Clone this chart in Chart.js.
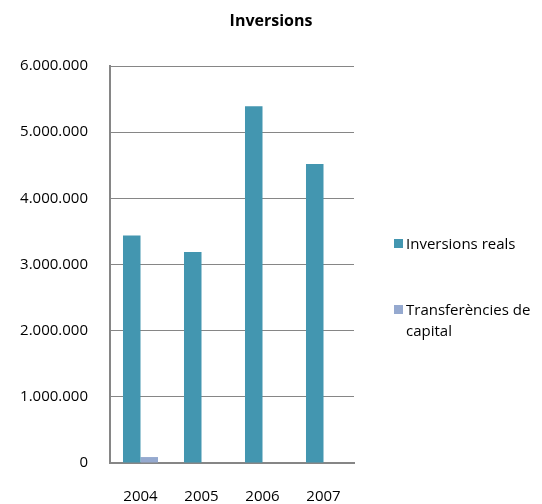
<!DOCTYPE html>
<html>
<head>
<meta charset="utf-8">
<script src="https://cdn.jsdelivr.net/npm/chart.js@4.4.0/dist/chart.umd.min.js"></script>
<style>
  html, body { margin: 0; padding: 0; background: #fff; }
  #wrap { position: relative; width: 542px; height: 504px; }
  #title { position: absolute; left: 0; top: 9px; width: 542px; text-align: center; font-family: "Open Sans", sans-serif; font-weight: bold; font-size: 16px; color: #000; }
  #legend { position: absolute; left: 394px; top: 233px; font-family: "Open Sans", sans-serif; font-size: 15px; color: #000; }
  .item { position: relative; padding-left: 12px; line-height: 21px; }
  .item span.box { position: absolute; left: 0; top: 6px; width: 9px; height: 9px; }
</style>
</head>
<body>
<div id="wrap">
  <canvas id="Chart" width="542" height="504"></canvas>
  <div id="title">Inversions</div>
  <div id="legend"></div>
</div>
<script>
const years = ['2004', '2005', '2006', '2007'];
const inversionsReals = [3440000, 3190000, 5390000, 4520000];
const transferencies = [90000, 0, 0, 0];
const seriesNames = ['Inversions reals', 'Transferències de capital'];
const colors = ['#4396B0', '#95A9CF'];

function fmt(v) {
    return String(v).replace(/\B(?=(\d{3})+(?!\d))/g, '.');
}

const dataSet = {
    labels: years,
    datasets: [
        { label: seriesNames[0], data: inversionsReals, backgroundColor: colors[0] },
        { label: seriesNames[1], data: transferencies, backgroundColor: colors[1] }
    ]
};

const options = {
    responsive: false,
    animation: false,
    layout: { padding: { left: 0, right: 188, top: 66, bottom: 0 } },
    datasets: { bar: { categoryPercentage: 0.574, barPercentage: 1 } },
    plugins: {
        legend: { display: false },
        tooltip: { enabled: false },
        title: { display: false }
    },
    scales: {
        x: {
            grid: { display: false },
            border: { display: true, color: '#868686', width: 2 },
            ticks: { color: '#000', font: { family: 'Open Sans', size: 15 }, padding: 17 },
            afterFit: function (s) { s.height = 41; }
        },
        y: {
            min: 0,
            max: 6000000,
            grid: { color: '#868686', lineWidth: 1, drawTicks: false },
            border: { display: true, color: '#868686', width: 2 },
            ticks: {
                stepSize: 1000000,
                color: '#000',
                font: { family: 'Open Sans', size: 15 },
                padding: 22,
                callback: function (v) { return fmt(v); }
            },
            afterFit: function (s) { s.width = 110; }
        }
    }
};

const chart = new Chart(document.getElementById('Chart'), { type: 'bar', data: dataSet, options });

let html = '';
seriesNames.forEach(function (n, i) {
    const text = i === 1 ? 'Transferències de<br>capital' : n;
    html += `<div class="item" style="margin-bottom:${i === 0 ? 45 : 0}px"><span class="box" style="background:${colors[i]}"></span>${text}</div>`;
});
document.getElementById('legend').innerHTML = html;
</script>
</body>
</html>
